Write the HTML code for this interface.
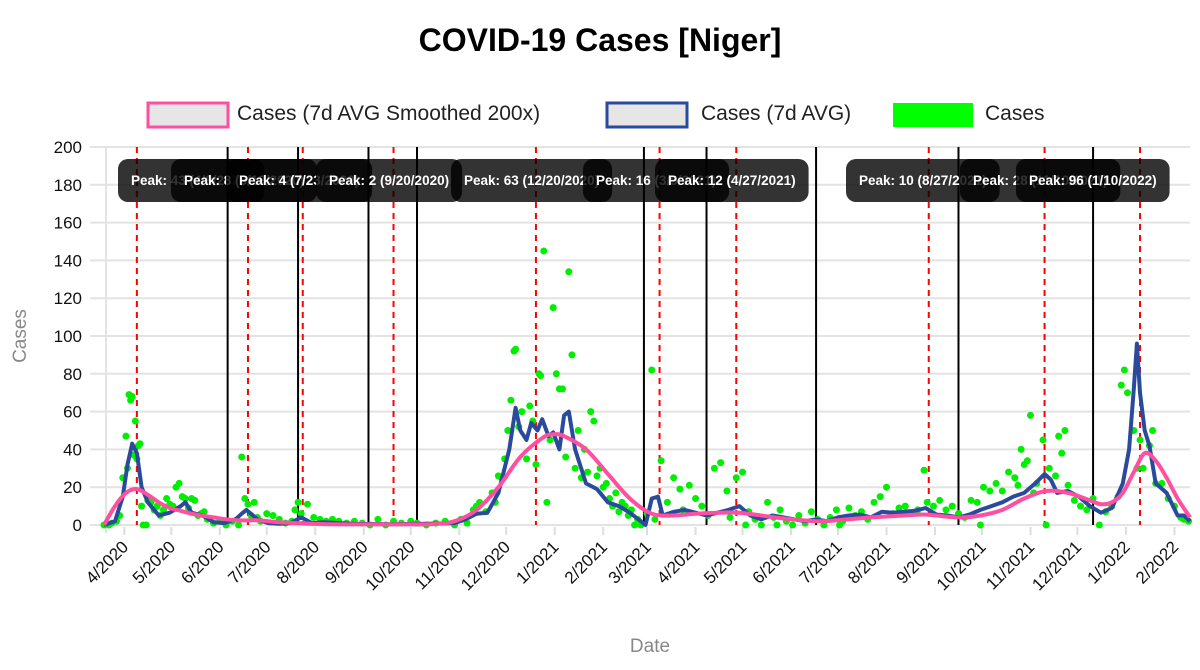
<!DOCTYPE html>
<html><head><meta charset="utf-8"><style>
html,body{margin:0;padding:0;background:#fff;}
svg{display:block;font-family:"Liberation Sans",Arial,sans-serif;}
</style></head><body>
<svg id="chart" width="1200" height="670" viewBox="0 0 1200 670" xmlns="http://www.w3.org/2000/svg">
<text x="600" y="51" text-anchor="middle" font-size="32" font-weight="bold" fill="#000">COVID-19 Cases [Niger]</text>
<g font-size="21" fill="#222">
 <g><rect x="148" y="103" width="80" height="24" fill="#e6e6e6" stroke="#ff4fa0" stroke-width="3"/><text x="237" y="120">Cases (7d AVG Smoothed 200x)</text></g>
 <g><rect x="607" y="103" width="80" height="24" fill="#e6e6e6" stroke="#2a4b9b" stroke-width="3"/><text x="701" y="120">Cases (7d AVG)</text></g>
 <g><rect x="893" y="103" width="80" height="24" fill="#00ff00"/><text x="985" y="120">Cases</text></g>
</g>
<g id="grid"></g>
<g id="yaxis"></g>
<g id="xaxis"></g>
<g id="vlines"></g>
<g id="dots"></g>
<g id="lines"></g>
<g id="peaks"></g>
<text transform="translate(26,336) rotate(-90)" text-anchor="middle" font-size="19" fill="#888">Cases</text>
<text x="650" y="652" text-anchor="middle" font-size="19" fill="#888">Date</text>
</svg>
<script>
// day offsets are days since 2020-03-19
const yTicks = [0,20,40,60,80,100,120,140,160,180,200];
const monthDays = [13,43,74,104,135,166,196,227,257,288,319,347,378,408,439,469,500,531,561,592,622,653,684];
const monthLabels = ["4/2020","5/2020","6/2020","7/2020","8/2020","9/2020","10/2020","11/2020","12/2020","1/2021","2/2021","3/2021","4/2021","5/2021","6/2021","7/2021","8/2021","9/2021","10/2021","11/2021","12/2021","1/2022","2/2022"];
const avgDays = [0,7,12,15,18,21,24,28,35,42,49,52,56,63,70,77,84,88,91,98,105,112,119,126,133,140,160,180,200,215,224,231,238,245,252,259,263,266,270,273,277,280,284,287,291,294,297,301,308,315,322,329,336,343,346,350,354,357,364,371,378,385,392,399,406,413,420,427,434,441,448,455,462,469,476,483,490,497,504,511,518,525,532,539,546,553,560,567,574,581,588,595,601,605,609,616,623,630,637,644,651,655,658,660,662,665,668,672,679,686,690,694];
const avgVals = [0,2,15,32,43,38,20,12,5,6.5,10,12,6.5,5,1.5,1,3,6,8,3,1,0.7,1,4,1,1.5,0.6,0.4,0.6,0.8,1,3,6,6.5,17,40,62,50,45,54,50,56,47,49,40,58,60,40,22,19,12,10,6.5,2,0,14,15,5,7,8,6.5,5,6.5,8,10,5,3,5,4,3,2,3,2,4,5,5.5,4,7,6.5,7,7.5,9,5.5,5,4,5.5,8,10,12,15,17,22,27,24,17,18,15,10,6.5,9,22,40,72,96,70,50,42,22,17,5,5,2];
const smDays = [0,7,14,21,28,35,42,49,56,70,84,98,112,140,180,210,224,238,252,266,280,287,294,308,322,336,350,364,378,392,406,420,434,455,469,490,511,525,546,560,574,588,602,616,630,637,644,651,658,665,672,679,686,694];
const smVals = [0,10,17,19,16,12,9,7.5,6,4,2.5,2.5,1.5,0.5,0.3,0.5,2,8,20,36,46,48,47,40,27,14,6,5,6,6.5,6.5,5,3.5,2,2.5,4,5,5.5,4,5,8,14,18,17,13,11,12,17,28,38,34,25,14,4];
const dotDays = [0,3,5,8,10,12,14,15,16,17,18,19,20,21,22,23,24,25,27,28,30,32,34,36,38,40,42,44,46,48,50,52,54,56,58,60,62,64,66,70,74,78,82,86,88,90,92,94,96,98,100,104,108,112,116,120,122,124,126,130,134,138,142,146,150,155,160,165,170,175,180,185,190,196,200,206,212,218,224,228,232,236,238,240,244,248,250,252,254,256,258,260,262,263,265,267,270,272,274,276,278,279,281,283,285,287,289,291,293,295,297,299,301,303,305,307,309,311,313,315,317,319,321,323,325,327,329,331,333,335,337,339,341,343,347,350,352,356,360,364,368,370,374,378,382,386,390,394,398,400,404,408,410,412,416,420,424,428,430,432,436,440,444,448,452,456,460,464,468,470,472,476,480,484,488,492,496,500,504,508,512,516,520,524,526,530,534,538,542,546,550,554,558,560,562,566,570,574,578,582,584,586,588,590,592,594,596,600,602,604,608,610,612,614,616,620,624,628,632,636,640,644,648,650,652,654,658,660,662,664,668,670,672,676,680,684,688,690,693];
const dotVals = [0,0,1,2,5,25,47,30,69,66,68,37,55,35,42,43,10,0,0,13,12,8,10,5,8,14,11,10,20,22,15,14,9,14,13,5,6,7,3,1,2,0,2,0,36,14,11,5,12,4,2,6,5,3,1,2,8,12,6,11,4,3,2,3,2,1,2,1,0,3,0,2,1,2,1,0,1,2,0,3,1,8,10,12,7,17,12,26,25,35,50,66,92,93,52,60,35,63,55,32,80,79,145,12,45,115,80,72,72,36,134,90,30,50,25,40,28,60,55,26,30,20,22,14,10,17,7,12,10,5,8,0,3,0,6,82,3,34,12,25,19,8,21,14,10,5,30,33,18,4,25,28,0,7,3,0,12,4,0,8,2,0,5,1,7,3,0,4,8,0,2,9,5,7,3,12,15,20,6,9,10,6,8,29,12,10,13,8,10,6,4,13,12,0,20,18,22,18,28,25,21,40,32,34,58,17,22,45,0,30,26,47,38,50,21,13,10,8,14,0,7,10,15,74,82,70,50,30,45,30,42,50,22,22,14,10,4,3,2];
const peakDays = [21,92,127,185,276,355,404,527,601,662];
const peakLabels = ["Peak: 43 (4/8/2020)","Peak: 8 (6/18/2020)","Peak: 4 (7/23/2020)","Peak: 2 (9/20/2020)","Peak: 63 (12/20/2020)","Peak: 16 (3/9/2021)","Peak: 12 (4/27/2021)","Peak: 10 (8/27/2021)","Peak: 28 (11/10/2021)","Peak: 96 (1/10/2022)"];
const peakBoxLeft = [118,171,226,316,451,583,655,846,960,1016];
const troughDays = [79,124,169,200,345,385,455,546,632];

const NS="http://www.w3.org/2000/svg";
function xOf(d){return 104 + d*1.565;}
function yOf(v){return 525 - v*1.89;}
function mk(tag,parent,attrs){const e=document.createElementNS(NS,tag);for(const k in attrs)e.setAttribute(k,attrs[k]);parent.appendChild(e);return e;}
const grid=document.getElementById('grid'),yax=document.getElementById('yaxis'),xax=document.getElementById('xaxis');
yTicks.forEach(v=>{
  const l=mk('line',grid,{x1:90,x2:1190,y1:yOf(v),y2:yOf(v),stroke:'#e3e3e3','stroke-width':2});
  
  
  const t=mk('text',yax,{x:82,y:yOf(v)+6,'text-anchor':'end','font-size':17,fill:'#111'});
  t.textContent=v;
  
  
});
const ax=mk('line',grid,{x1:106,x2:106,y1:147,y2:533,stroke:'#e3e3e3','stroke-width':2});


monthDays.forEach((d,i)=>{
  const x=xOf(d);
  const tk=mk('line',xax,{x1:x,x2:x,y1:527,y2:535,stroke:'#ddd','stroke-width':2});
  
  
  const t=mk('text',xax,{x:x+5,y:548,'text-anchor':'end','font-size':17,fill:'#111',transform:`rotate(-45 ${x+5} 548)`});
  t.textContent=monthLabels[i];
  
  
});
const vl=document.getElementById('vlines');
troughDays.forEach(d=>{
  const l=mk('line',vl,{x1:xOf(d),x2:xOf(d),y1:147,y2:525,stroke:'#000','stroke-width':2});
  
  
});
peakDays.forEach(d=>{
  const l=mk('line',vl,{x1:xOf(d),x2:xOf(d),y1:147,y2:525,stroke:'#ff0000','stroke-width':2,'stroke-dasharray':'6,5'});
  
  
});
const dots=document.getElementById('dots');
dotDays.forEach((d,i)=>{
  const c=mk('circle',dots,{cx:xOf(d),cy:yOf(dotVals[i]),r:3.5,fill:'#00ee00'});
  
  
});
const lines=document.getElementById('lines');
function path(days,vals){return days.map((d,i)=>(i?'L':'M')+xOf(d).toFixed(1)+','+yOf(vals[i]).toFixed(1)).join(' ');}
function smoothPath(days,vals){
  const p=days.map((d,i)=>[xOf(d),yOf(vals[i])]);
  let s='M'+p[0][0].toFixed(1)+','+p[0][1].toFixed(1);
  for(let i=0;i<p.length-1;i++){
    const p0=p[i-1]||p[i],p1=p[i],p2=p[i+1],p3=p[i+2]||p2;
    const c1=[p1[0]+(p2[0]-p0[0])/6,p1[1]+(p2[1]-p0[1])/6];
    const c2=[p2[0]-(p3[0]-p1[0])/6,p2[1]-(p3[1]-p1[1])/6];
    s+=` C${c1[0].toFixed(1)},${c1[1].toFixed(1)} ${c2[0].toFixed(1)},${c2[1].toFixed(1)} ${p2[0].toFixed(1)},${p2[1].toFixed(1)}`;
  }
  return s;
}
const pb=mk('path',lines,{d:path(avgDays,avgVals),fill:'none',stroke:'#2a4b9b','stroke-width':4,'stroke-linejoin':'round'});


const pp=mk('path',lines,{d:smoothPath(smDays,smVals),fill:'none',stroke:'#ff4fa0','stroke-width':4,'stroke-linejoin':'round'});


const pk=document.getElementById('peaks');
peakLabels.forEach((s,i)=>{
  const g=mk('g',pk,{});
  
  
  const r=mk('rect',g,{x:peakBoxLeft[i],y:159,height:43,width:100,rx:10,fill:'rgba(0,0,0,0.8)'});
  const t=mk('text',g,{x:peakBoxLeft[i]+13,y:185,'font-size':13.5,'font-weight':'bold',fill:'#fff'});
  t.textContent=s;
  r.setAttribute('width',t.getComputedTextLength()+26);
});
</script>
</body></html>
